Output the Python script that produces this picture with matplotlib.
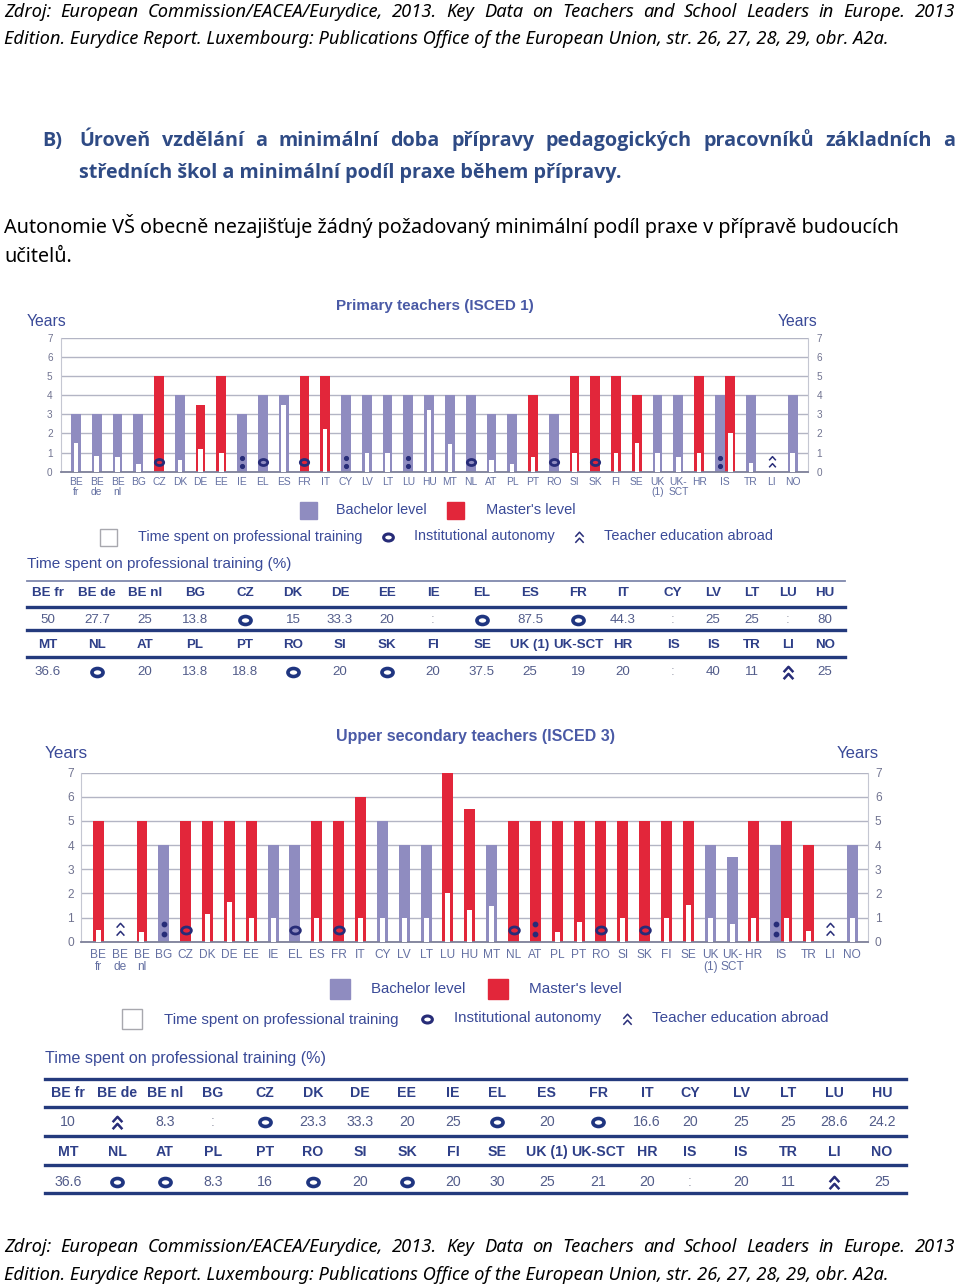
import matplotlib
matplotlib.use("Agg")
import matplotlib.pyplot as plt
from matplotlib.path import Path
from matplotlib.patches import Rectangle

W, H = 960, 1286

# ---- data: primary teachers (ISCED 1) ----
p_names = ["BE fr", "BE de", "BE nl", "BG", "CZ", "DK", "DE", "EE", "IE", "EL", "ES", "FR",
           "IT", "CY", "LV", "LT", "LU", "HU", "MT", "NL", "AT", "PL", "PT", "RO", "SI", "SK",
           "FI", "SE", "UK (1)", "UK-SCT", "HR", "IS", "IS", "TR", "LI", "NO"]
p_level = ["B", "B", "B", "B", "M", "B", "M", "M", "B", "B", "B", "M", "M", "B", "B", "B", "B", "B",
           "B", "B", "B", "B", "M", "B", "M", "M", "M", "M", "B", "B", "M", "B", "M", "B", "", "B"]
p_years = [3, 3, 3, 3, 5, 4, 3.5, 5, 3, 4, 4, 5, 5, 4, 4, 4, 4, 4,
           4, 4, 3, 3, 4, 3, 5, 5, 5, 4, 4, 4, 5, 4, 5, 4, 0, 4]
p_train = ["50", "27.7", "25", "13.8", "o", "15", "33.3", "20", ":", "o", "87.5", "o", "44.3", ":",
           "25", "25", ":", "80", "36.6", "o", "20", "13.8", "18.8", "o", "20", "o", "20", "37.5",
           "25", "19", "20", ":", "40", "11", "^", "25"]

# ---- data: upper secondary teachers (ISCED 3) ----
s_names = p_names
s_level = ["M", "", "M", "B", "M", "M", "M", "M", "B", "B", "M", "M", "M", "B", "B", "B", "M", "M",
           "B", "M", "M", "M", "M", "M", "M", "M", "M", "M", "B", "B", "M", "B", "M", "M", "", "B"]
s_years = [5, 0, 5, 4, 5, 5, 5, 5, 4, 4, 5, 5, 6, 5, 4, 4, 7, 5.5,
           4, 5, 5, 5, 5, 5, 5, 5, 5, 5, 4, 3.5, 5, 4, 5, 4, 0, 4]
s_train = ["10", "^", "8.3", ":", "o", "23.3", "33.3", "20", "25", "o", "20", "o", "16.6", "20",
           "25", "25", "28.6", "24.2", "36.6", "o", "o", "8.3", "16", "o", "20", "o", "20", "30",
           "25", "21", "20", ":", "20", "11", "^", "25"]
s_chart_override = {"AT": ":"}   # chart shows ':' for AT while the table gives 'o'

tick_text = {"BE fr": "BE\nfr", "BE de": "BE\nde", "BE nl": "BE\nnl",
             "UK (1)": "UK\n(1)", "UK-SCT": "UK-\nSCT"}

BACH = "#8f8cc0"
MAST = "#e2263a"
NAVY = "#272c78"
BLUE = "#3a4a98"
TITLE = "#2f4b85"
GRID = "#b3b5c4"

fig = plt.figure(figsize=(W / 100, H / 100), dpi=100)
page = fig.add_axes([0, 0, 1, 1])
page.set_xlim(0, W)
page.set_ylim(H, 0)
page.axis("off")
renderer = fig.canvas.get_renderer()

NARROW = ["Liberation Sans Narrow", "Liberation Sans", "DejaVu Sans"]
DOC = ["Noto Sans", "DejaVu Sans"]
DOCB = ["Open Sans", "Noto Sans", "DejaVu Sans"]

chev = Path([(-1, -0.55), (0, 0.55), (1, -0.55)], [Path.MOVETO, Path.LINETO, Path.LINETO])
ring = Path(Path.unit_circle().vertices * [1.0, 0.72], Path.unit_circle().codes)


def fit(x0, x1, y, s, base=10, **kw):
    t = page.text(x0, y, s, fontsize=base, va="center", ha="left", **kw)
    w = t.get_window_extent(renderer).width
    t.set_fontsize(base * (x1 - x0) / w)
    return t


def baseline(y, size):
    return y + 0.36 * size * 100 / 72


def justify(x0, x1, y, s, size, **kw):
    # words share one baseline so accents do not shift them
    words = s.split()
    ts = [page.text(x0, baseline(y, size), w, fontsize=size, va="baseline", ha="left", **kw)
          for w in words]
    ws = [t.get_window_extent(renderer).width for t in ts]
    gap = (x1 - x0 - sum(ws)) / (len(ws) - 1)
    x = x0
    for t, w in zip(ts, ws):
        t.set_x(x)
        x += w + gap


def caret2(ax, x, y1, y2, ms, mew):
    ax.plot([x, x], [y1, y2], ls="none", marker=chev, ms=ms, mfc="none", mec=NAVY, mew=mew)


# ---- document text ----
hdr1 = "Zdroj: European Commission/EACEA/Eurydice, 2013. Key Data on Teachers and School Leaders in Europe. 2013"
hdr2 = "Edition. Eurydice Report. Luxembourg: Publications Office of the European Union, str. 26, 27, 28, 29, obr. A2a."
for y1, y2 in [(10, 39), (1245, 1275)]:
    t = fit(4, 887, y2, hdr2, family=DOC, style="italic", color="black")
    justify(4, 955, y1, hdr1, t.get_fontsize(), family=DOC, style="italic", color="black")

t = fit(79, 623, 173, "středních škol a minimální podíl praxe během přípravy.",
        family=DOCB, weight="bold", color=TITLE)
fs = t.get_fontsize()
page.text(42, baseline(139, fs), "B)", fontsize=fs, family=DOCB, weight="bold", color=TITLE,
          va="baseline")
justify(79, 955, 139, "Úroveň vzdělání a minimální doba přípravy pedagogických pracovníků základních a",
        fs, family=DOCB, weight="bold", color=TITLE)

t = fit(4, 900, 226, "Autonomie VŠ obecně nezajišťuje žádný požadovaný minimální podíl praxe v přípravě budoucích",
        family=DOC, color="black")
page.text(4, 257, "učitelů.", fontsize=t.get_fontsize(), family=DOC, color="black", va="center")


def chart(box, xlim, names, levels, years, train, override, bw, fs_tick, fs_y, pads, ms):
    x0, y0, x1, y1 = box
    ax = fig.add_axes([x0 / W, 1 - y1 / H, (x1 - x0) / W, (y1 - y0) / H])
    ax.set_xlim(*xlim)
    ax.set_ylim(0, 7)
    pos = [i if i <= 31 else i - 0.5 for i in range(len(names))]
    for p, nm, lev, yr, tr in zip(pos, names, levels, years, train):
        mark = override.get(nm, tr)
        if lev:
            ax.bar(p, yr, width=bw, color=BACH if lev == "B" else MAST, lw=0, zorder=2)
        if mark == "o":
            ax.plot(p, 0.5, ls="none", marker=ring, ms=ms, mfc="none", mec=NAVY, mew=2, zorder=4)
        elif mark == ":":
            ax.plot([p, p], [0.3, 0.72], ls="none", marker="o", ms=ms * 0.45, color=NAVY, zorder=4)
        elif mark == "^":
            caret2(ax, p, 0.36, 0.7, ms * 0.8, 1.1)
        else:
            ax.bar(p, yr * float(mark) / 100, width=bw * 0.46, color="white", lw=0, zorder=3)
    # one tick per country (IS spans its two bars)
    tpos, tlab = [], []
    for p, nm in zip(pos, names):
        if tlab and tlab[-1] == nm:
            tpos[-1] = (tpos[-1] + p) / 2
        else:
            tpos.append(p)
            tlab.append(nm)
    ax.set_xticks(tpos)
    ax.set_xticklabels([tick_text.get(n, n) for n in tlab], family=NARROW, fontsize=fs_tick,
                       color="#6470a2", linespacing=1.05)
    ax.set_yticks(range(8))
    ax.set_yticklabels([str(v) for v in range(8)], family=NARROW, fontsize=fs_y, color="#707390")
    ax.tick_params(axis="x", length=0, pad=pads[0])
    ax.tick_params(axis="y", length=0, pad=pads[1], labelright=True, right=False)
    ax.yaxis.grid(True, color=GRID, lw=1)
    ax.set_axisbelow(True)
    for s in ["left", "right"]:
        ax.spines[s].set_color("#c5c7d2")
    ax.spines["top"].set_visible(False)
    ax.spines["bottom"].set_color("#7d8099")
    ax.spines["bottom"].set_linewidth(1.3)
    ax.set_facecolor("white")
    return ax


chart((61, 337.7, 808, 471.7), (-0.72, 35.24), p_names, p_level, p_years, p_train, {},
      0.47, 7.4, 7.2, (3.5, 6), 6)
chart((81, 772.7, 868, 941.7), (-0.79, 35.22), s_names, s_level, s_years, s_train, s_chart_override,
      0.5, 8.6, 8.6, (5, 5), 7)

# ---- titles, axis names, legends ----
fit(336, 534, 306, "Primary teachers (ISCED 1)", family=NARROW, weight="bold", color="#4a5aa6")
fit(336, 615, 736, "Upper secondary teachers (ISCED 3)", family=NARROW, weight="bold", color="#4a5aa6")
for xa, xb, xc, xd, y in [(27, 67, 778, 818, 322), (45, 88, 837, 879, 754)]:
    fit(xa, xb, y, "Years", family=NARROW, color=BLUE)
    fit(xc, xd, y, "Years", family=NARROW, color=BLUE)


def legend(row1, row2, sq, items):
    (bx, rx, y1), (wx, ox, cx, y2) = row1, row2
    page.add_patch(Rectangle((bx, y1 - sq / 2), sq, sq, color=BACH))
    page.add_patch(Rectangle((rx, y1 - sq / 2), sq, sq, color=MAST))
    page.add_patch(Rectangle((wx, y2 - sq / 2), sq, sq, facecolor="white", edgecolor="#a8a8ae", lw=1))
    page.plot(ox, y2, marker=ring, ms=7, mfc="none", mec=NAVY, mew=2.2)
    caret2(page, cx, y2 + 3, y2 - 3, 6, 1.1)
    for a, b, y, s in items:
        fit(a, b, y, s, family=NARROW, color=BLUE)


legend((300, 447, 510), (100, 388, 579, 537), 17,
       [(336, 427, 510, "Bachelor level"), (486, 575, 510, "Master's level"),
        (138, 362, 537, "Time spent on professional training"),
        (414, 554, 536, "Institutional autonomy"), (604, 772, 536, "Teacher education abroad")])
legend((330, 488, 989), (122, 427, 627, 1019), 20,
       [(371, 466, 989, "Bachelor level"), (529, 622, 989, "Master's level"),
        (164, 399, 1020, "Time spent on professional training"),
        (454, 602, 1018, "Institutional autonomy"), (652, 829, 1018, "Teacher education abroad")])

fit(27, 293, 564, "Time spent on professional training (%)", family=NARROW, color=BLUE)
fit(45, 326, 1058, "Time spent on professional training (%)", family=NARROW, color=BLUE)

# ---- tables ----
cols1 = [48, 97, 145, 195, 245, 293, 340, 387, 433, 482, 530, 578, 623, 673, 713, 752, 788, 825]
cols2 = [68, 117, 165, 213, 265, 313, 360, 407, 453, 497, 547, 598, 647, 690, 741, 788, 834, 882]


def table(cols, rows_y, lines, thin, xr, names, vals, fs):
    page.plot(xr, [thin, thin], color="#7f88ad" if thin < 700 else "#243a7d",
              lw=1.3 if thin < 700 else 2.4)
    for ly in lines:
        page.plot(xr, [ly, ly], color="#243a7d", lw=2.4)
    for r in range(2):
        yh, yv = rows_y[2 * r], rows_y[2 * r + 1]
        for c, x in enumerate(cols):
            k = r * 18 + c
            page.text(x, yh, names[k], ha="center", va="center", family=NARROW, weight="bold",
                      fontsize=fs, color="#2e3f88")
            v = vals[k]
            if v == "o":
                page.plot(x, yv, marker=ring, ms=8, mfc="none", mec="#1f3580", mew=2.6)
            elif v == "^":
                caret2(page, x, yv + 4, yv - 3, 7, 1.8)
            else:
                page.text(x, yv, v, ha="center", va="center", family=NARROW, fontsize=fs,
                          color="#9a9cab" if v == ":" else "#525c8a")


table(cols1, [593, 620, 645, 672], [607, 630, 657], 581, [27, 845], p_names, p_train, 9.6)
table(cols2, [1093, 1122, 1152, 1182], [1107, 1136, 1165, 1193], 1079, [45, 906], s_names, s_train, 10.2)

fig.savefig("out.png", dpi=100)
